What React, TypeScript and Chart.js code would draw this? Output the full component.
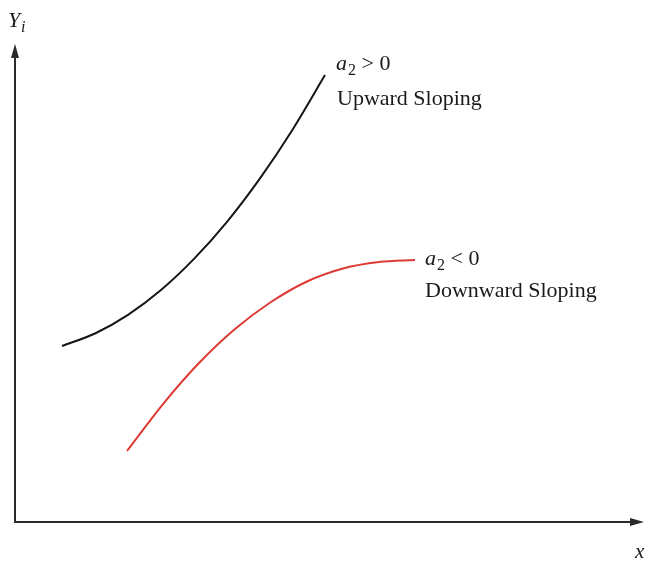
import React, { useEffect, useRef } from "react";
import { Chart, registerables } from "chart.js";

Chart.register(...registerables);

// Upward sloping curve (a2 > 0)
const upwardX = [7.52, 12.8, 18.08, 23.36, 28.64, 33.92, 39.2, 44.48, 49.6];
const upwardY = [37.13, 39.77, 43.71, 48.95, 55.51, 63.33, 72.49, 82.93, 94.28];

// Downward sloping curve (a2 < 0)
const downwardX = [17.92, 23.68, 29.44, 35.2, 40.96, 46.72, 52.48, 58.24, 64.0];
const downwardY = [14.98, 24.89, 33.54, 40.72, 46.41, 50.74, 53.48, 54.85, 55.27];

const yAxisLabel = "Y";
const yAxisSub = "i";
const xAxisLabel = "x";
const upLabel1 = { a: "a", sub: "2", rest: " > 0" };
const upLabel2 = "Upward Sloping";
const downLabel1 = { a: "a", sub: "2", rest: " < 0" };
const downLabel2 = "Downward Sloping";

const SERIF = '"Liberation Serif", "DejaVu Serif", serif';

const decorPlugin = {
  id: "decor",
  afterDraw(chart: any) {
    const ctx = chart.ctx as CanvasRenderingContext2D;
    const { left, right, top, bottom } = chart.chartArea;
    ctx.save();
    // axes
    ctx.strokeStyle = "#2a2a2a";
    ctx.fillStyle = "#2a2a2a";
    ctx.lineWidth = 2;
    ctx.beginPath();
    ctx.moveTo(left, top + 8);
    ctx.lineTo(left, bottom);
    ctx.lineTo(right - 4, bottom);
    ctx.stroke();
    // y arrow
    ctx.beginPath();
    ctx.moveTo(left, top - 4);
    ctx.lineTo(left - 4, top + 10);
    ctx.lineTo(left + 4, top + 10);
    ctx.closePath();
    ctx.fill();
    // x arrow
    ctx.beginPath();
    ctx.moveTo(right + 4, bottom);
    ctx.lineTo(right - 10, bottom - 4);
    ctx.lineTo(right - 10, bottom + 4);
    ctx.closePath();
    ctx.fill();

    ctx.fillStyle = "#1a1a1a";
    ctx.textBaseline = "alphabetic";
    // Y_i
    ctx.font = `italic 22px ${SERIF}`;
    ctx.fillText(yAxisLabel, 8, 27);
    ctx.font = `italic 16px ${SERIF}`;
    ctx.fillText(yAxisSub, 21, 32);
    // x
    ctx.font = `italic 21px ${SERIF}`;
    ctx.fillText(xAxisLabel, 635, 558);

    const drawA2 = (lab: any, x: number, y: number) => {
      ctx.font = `italic 22px ${SERIF}`;
      ctx.fillText(lab.a, x, y);
      let w = ctx.measureText(lab.a).width;
      ctx.font = `16px ${SERIF}`;
      ctx.fillText(lab.sub, x + w + 1, y + 5);
      w += ctx.measureText(lab.sub).width + 1;
      ctx.font = `22px ${SERIF}`;
      ctx.fillText(lab.rest, x + w, y);
    };
    drawA2(upLabel1, 336, 70);
    ctx.font = `22px ${SERIF}`;
    ctx.fillText(upLabel2, 337, 105);
    drawA2(downLabel1, 425, 265);
    ctx.font = `22px ${SERIF}`;
    ctx.fillText(downLabel2, 425, 297);
    ctx.restore();
  },
};

export default function App() {
  const ref = useRef<HTMLCanvasElement>(null);
  useEffect(() => {
    if (!ref.current) return;
    const chart = new Chart(ref.current, {
      type: "scatter",
      data: {
        datasets: [
          {
            label: "a2 > 0",
            data: upwardX.map((x, i) => ({ x, y: upwardY[i] })),
            showLine: true,
            borderColor: "#151515",
            borderWidth: 2,
            pointRadius: 0,
            cubicInterpolationMode: "monotone",
          },
          {
            label: "a2 < 0",
            data: downwardX.map((x, i) => ({ x, y: downwardY[i] })),
            showLine: true,
            borderColor: "#dc3a33",
            borderWidth: 2,
            pointRadius: 0,
            cubicInterpolationMode: "monotone",
          },
        ],
      },
      options: {
        responsive: false,
        animation: false,
        layout: { padding: { left: 15, top: 48, right: 6, bottom: 40 } },
        plugins: { legend: { display: false }, tooltip: { enabled: false } },
        scales: {
          x: { type: "linear", min: 0, max: 100, display: false },
          y: { type: "linear", min: 0, max: 100, display: false },
        },
      },
      plugins: [decorPlugin],
    });
    return () => chart.destroy();
  }, []);
  return (
    <div style={{ position: "fixed", left: 0, top: 0, width: 646, height: 562, background: "#fff" }}>
      <canvas ref={ref} width={646} height={562} />
    </div>
  );
}
